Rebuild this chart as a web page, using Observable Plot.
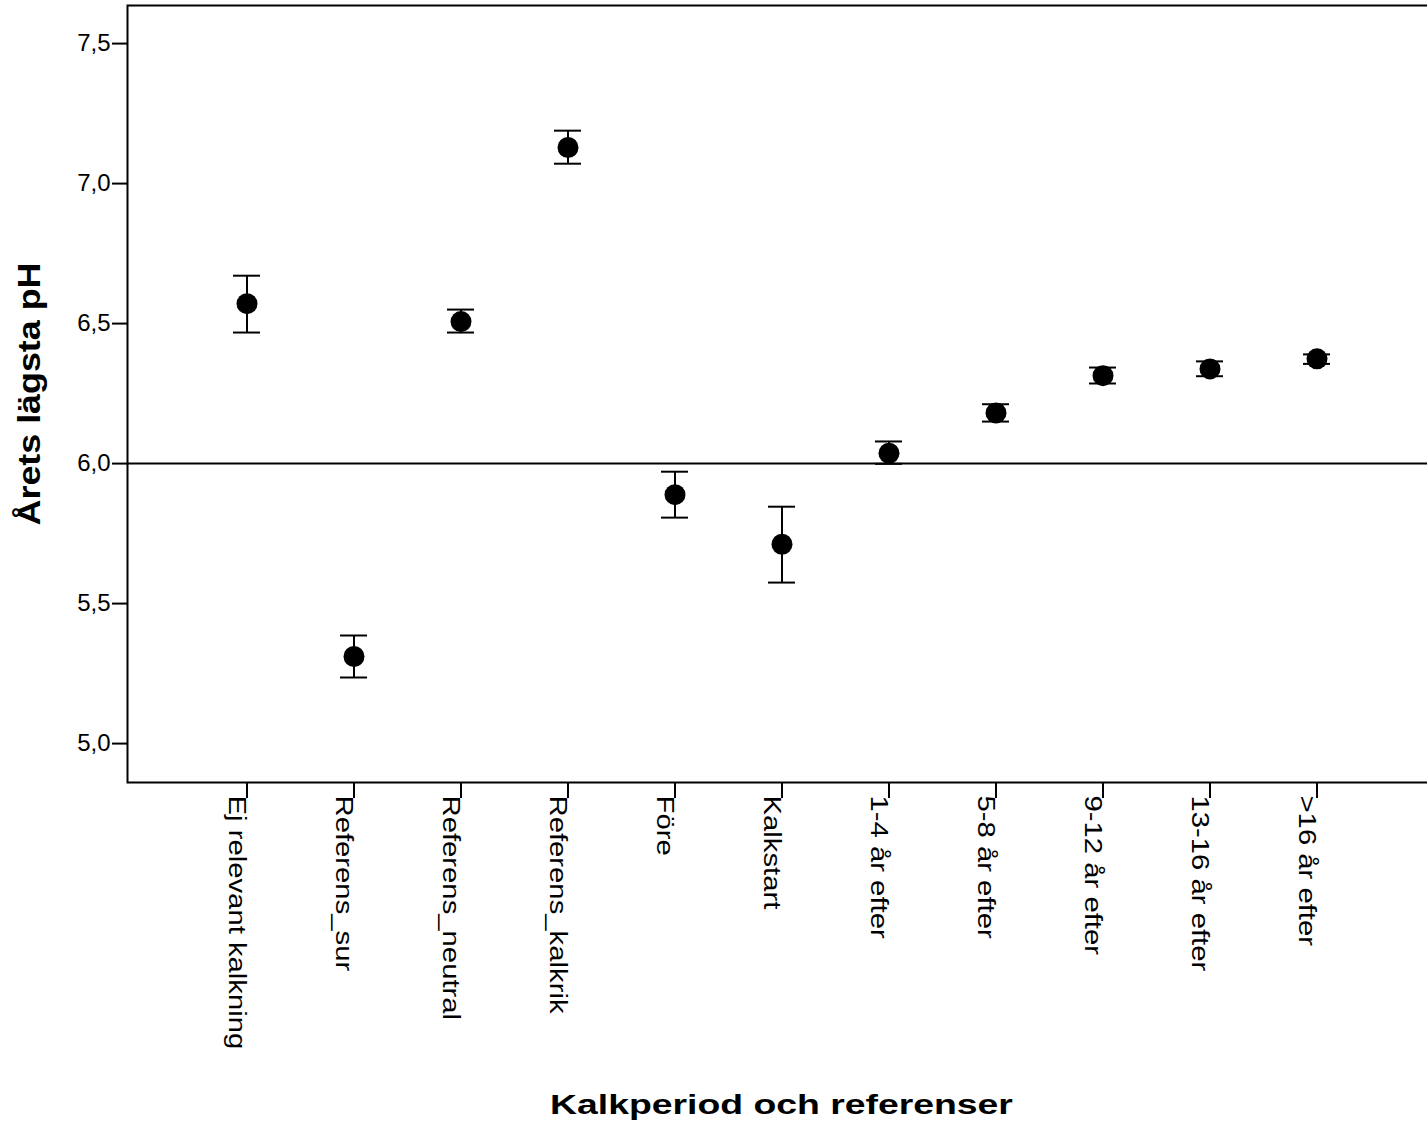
<!DOCTYPE html>
<html><head><meta charset="utf-8">
<script src="https://cdn.jsdelivr.net/npm/d3@7"></script>
<script src="https://cdn.jsdelivr.net/npm/@observablehq/plot@0.6"></script>
<style>
body{margin:0;background:#fff;}
#chart{width:1427px;height:1124px;overflow:hidden;}
#chart svg{display:block;max-width:none !important;}
</style></head><body><div id="chart"></div>
<script>
const categories = ["Ej relevant kalkning","Referens_sur","Referens_neutral","Referens_kalkrik","Före","Kalkstart","1-4 år efter","5-8 år efter","9-12 år efter","13-16 år efter",">16 år efter"];
const means = [6.571, 5.311, 6.507, 7.129, 5.889, 5.712, 6.037, 6.181, 6.314, 6.338, 6.374];
const lower = [6.468, 5.236, 6.468, 7.071, 5.807, 5.575, 5.999, 6.150, 6.286, 6.312, 6.356];
const upper = [6.671, 5.386, 6.550, 7.189, 5.971, 5.846, 6.079, 6.212, 6.343, 6.365, 6.390];
const yTicks = [5.0, 5.5, 6.0, 6.5, 7.0, 7.5];
const refLine = [6.0];
const xTitle = "Kalkperiod och referenser";
const yTitle = "Årets lägsta pH";

const data = categories.map((c, i) => ({cat: c, mean: means[i], lo: lower[i], hi: upper[i]}));

const chart = Plot.plot({
  width: 1440, height: 1124,
  marginLeft: 127, marginRight: 5, marginTop: 5, marginBottom: 342,
  style: {fontFamily: "'Liberation Sans', Arial, sans-serif", background: "#fff", color: "#000", maxWidth: "none"},
  x: {type: "band", domain: categories, paddingInner: 0.748, paddingOuter: 0.986},
  y: {domain: [4.861, 7.636]},
  marks: [
    Plot.axisY({ticks: yTicks, tickFormat: d => d.toFixed(1).replace(".", ","), tickSize: 15, tickPadding: 2, fontSize: 24, label: null, strokeWidth: 2}),
    Plot.axisX({tickSize: 16, tickFormat: () => "", label: null, strokeWidth: 2}),
    Plot.axisX({tickSize: 0, tickPadding: 13, tickRotate: 90, fontSize: 24, label: null, dx: -9}),
    Plot.ruleY(refLine, {stroke: "#000", strokeWidth: 2}),
    Plot.ruleX(data, {x: "cat", y1: "lo", y2: "hi", stroke: "#000", strokeWidth: 2}),
    Plot.tickY(data, {x: "cat", y: "lo", stroke: "#000", strokeWidth: 2}),
    Plot.tickY(data, {x: "cat", y: "hi", stroke: "#000", strokeWidth: 2}),
    Plot.dot(data, {x: "cat", y: "mean", r: 10.5, fill: "#000", stroke: null}),
    Plot.frame({stroke: "#000", strokeWidth: 2}),
    Plot.text([xTitle], {text: d => d, frameAnchor: "bottom", dy: 331, fontSize: 28, fontWeight: "bold", textAnchor: "middle"}),
    Plot.text([yTitle], {text: d => d, frameAnchor: "left", dx: -88, rotate: -90, fontSize: 31, fontWeight: "bold", textAnchor: "middle"})
  ]
});
document.getElementById("chart").append(chart);

// stretch text along its reading direction to match the reference's wide lettering
function stretch(t, s, shiftX = 0) {
  try {
    const P = t.parentNode.getCTM(), T = t.getCTM();
    if (!P || !T) return;
    const toM = m => new DOMMatrix([m.a, m.b, m.c, m.d, m.e, m.f]);
    const x = parseFloat(t.getAttribute("x")) || 0, y = parseFloat(t.getAttribute("y")) || 0;
    const M = new DOMMatrix().translate(shiftX, 0).multiply(toM(P).inverse().multiply(toM(T))).translate(x, y).scale(s, 1);
    t.setAttribute("x", 0);
    t.setAttribute("y", 0);
    t.setAttribute("transform", `matrix(${M.a},${M.b},${M.c},${M.d},${M.e},${M.f})`);
  } catch (e) {}
}
chart.querySelectorAll("text").forEach(t => {
  const s = t.textContent;
  if (s === xTitle) stretch(t, 463 / t.getComputedTextLength());
  else if (s === yTitle) stretch(t, 263 / t.getComputedTextLength());
  else if (categories.includes(s)) stretch(t, 1.22, -9);
});
</script></body></html>
